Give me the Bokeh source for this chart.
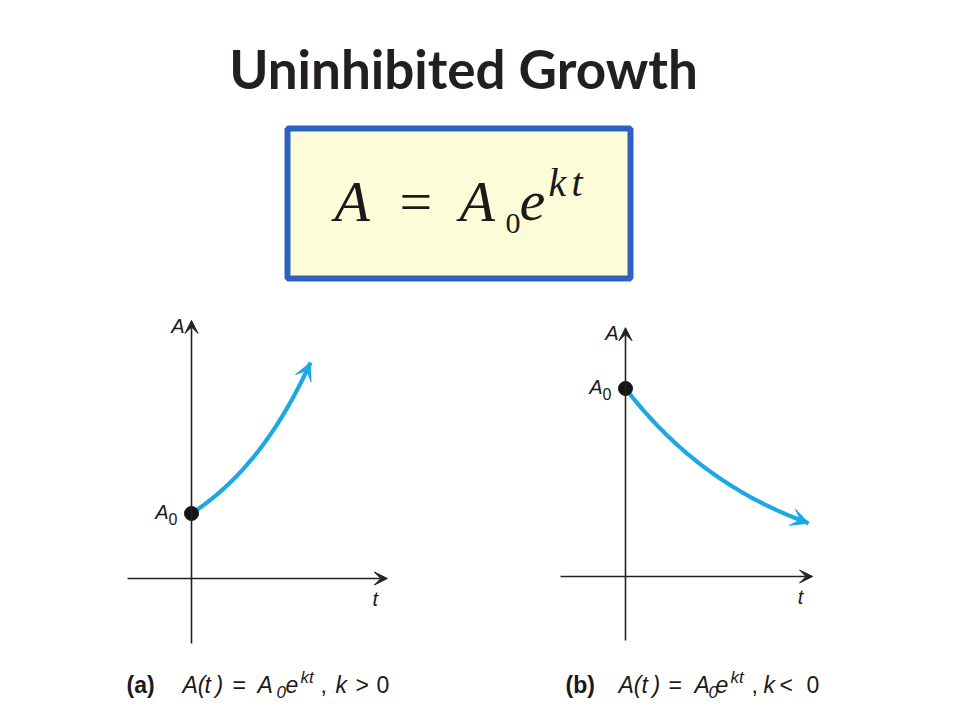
import numpy as np
from bokeh.plotting import figure
from bokeh.models import Range1d, Arrow, VeeHead
from bokeh.core.properties import value
from bokeh.embed import file_html
from bokeh.resources import INLINE

# ---------------- data ----------------
title_text = "Uninhibited Growth"

# panel (a): growth, k > 0
A0_a = 1.0
k_a = 0.5
t_a = np.linspace(0.0, 2.4, 80)
A_a = A0_a * np.exp(k_a * t_a)
t_axis_a = [-1.29, 3.95]
A_axis_a = [-1.0, 3.97]

# panel (b): decay, k < 0
A0_b = 3.0
k_b = -0.35
t_b = np.linspace(0.0, 3.6, 80)
A_b = A0_b * np.exp(k_b * t_b)
t_axis_b = [-1.28, 3.68]
A_axis_b = [-1.02, 3.97]

# ---------------- figure (coordinates = page pixels) ----------------
W, H = 944, 704
p = figure(width=W, height=H, x_range=Range1d(0, W), y_range=Range1d(H, 0),
           output_backend="svg", toolbar_location=None, min_border=0)
p.axis.visible = False
p.grid.visible = False
p.outline_line_color = None
p.background_fill_color = "white"
p.border_fill_color = "white"

SANS = value("Liberation Sans")
SERIF = value("Liberation Serif")
BASE_SHIFT = 0.37  # correction so that y is the visual baseline


def put(x, y, s, size, font=SERIF, style="normal", align="left", color="#1a1a1a"):
    p.text(x=[x], y=[y], text=[s], text_align=align, text_baseline="alphabetic",
           y_offset=-BASE_SHIFT * size,
           text_font=font, text_font_style=style, text_font_size=f"{size}px", text_color=color)


# title
p.text(x=[463], y=[88], text=[title_text], text_align="center", text_baseline="alphabetic",
       y_offset=-BASE_SHIFT * 53,
       text_font=value("Lato"), text_font_style="bold", text_font_size="53px", text_color="#231f20")

# formula box
p.quad(left=[287], right=[630], top=[128], bottom=[278], fill_color="#fdfcd8",
       line_color="#2f62c0", line_width=6)

fb = 222
put(334, fb, "A", 58, style="italic")
put(399, fb, "=", 58)
put(459, fb, "A", 58, style="italic")
put(505, fb + 12, "0", 30)
put(519, fb, "e", 58, style="italic")
put(548, fb - 25, "k", 40, style="italic")
put(571, fb - 25, "t", 40, style="italic")


# ---------------- panels ----------------
def panel(name, origin, sx, sy, t, A, A0, t_axis, A_axis):
    ox, oy = origin
    xr = Range1d((0 - ox) / sx, (W - ox) / sx)
    yr = Range1d((oy - H) / sy, (oy - 0) / sy)
    xn, yn = "x_" + name, "y_" + name
    p.extra_x_ranges[xn] = xr
    p.extra_y_ranges[yn] = yr
    kw = dict(x_range_name=xn, y_range_name=yn)
    ink = "#222222"
    # axes
    p.add_layout(Arrow(x_start=t_axis[0], y_start=0, x_end=t_axis[1], y_end=0,
                       line_color=ink, line_width=1.6,
                       end=VeeHead(size=13, fill_color=ink, line_color=ink, line_width=1), **kw))
    p.add_layout(Arrow(x_start=0, y_start=A_axis[0], x_end=0, y_end=A_axis[1],
                       line_color=ink, line_width=1.6,
                       end=VeeHead(size=13, fill_color=ink, line_color=ink, line_width=1), **kw))
    # curve
    p.line(t, A, line_color="#1ba8e3", line_width=4.2, **kw)
    p.add_layout(Arrow(x_start=t[-4], y_start=A[-4], x_end=t[-1], y_end=A[-1],
                       line_color="#1ba8e3", line_width=1,
                       end=VeeHead(size=17, fill_color="#1ba8e3", line_color="#1ba8e3", line_width=1), **kw))
    # A0 dot
    p.scatter([0], [A0], size=14, fill_color="#151515", line_color="#151515", **kw)

    # labels
    def lab(x, y, s, dx, dy, size, style="italic", align="right"):
        p.text(x=[x], y=[y], text=[s], x_offset=dx, y_offset=dy - BASE_SHIFT * size, text_align=align,
               text_baseline="alphabetic", text_font=SANS, text_font_style=style,
               text_font_size=f"{size}px", text_color="#1a1a1a", **kw)

    lab(0, A_axis[1], "A", -7, 13, 20)
    lab(0, A0, "A", -23, 6, 20)
    lab(0, A0, "0", -14, 11, 16, style="normal")
    lab(t_axis[1], 0, "t", -12, 28, 20, align="center")


panel("a", (191, 578), 119 / 2.4, 65.0, t_a, A_a, A0_a, t_axis_a, A_axis_a)
panel("b", (625, 576), 183 / 3.6, 188 / 3.0, t_b, A_b, A0_b, t_axis_b, A_axis_b)

# ---------------- captions ----------------
cb = 693
CS = 23
SS = 17


def caption(label, rel, xs):
    put(xs[0], cb, label, CS, font=SANS, style="bold")
    put(xs[1], cb, "A(", CS, font=SANS, style="italic")
    put(xs[2], cb, "t", CS, font=SANS, style="italic")
    put(xs[3], cb, ")", CS, font=SANS, style="italic")
    put(xs[4], cb, "=", CS, font=SANS)
    put(xs[5], cb, "A", CS, font=SANS, style="italic")
    put(xs[6], cb + 5, "0", SS, font=SANS, style="italic")
    put(xs[7], cb, "e", CS, font=SANS, style="italic")
    put(xs[8], cb - 10, "kt", SS, font=SANS, style="italic")
    put(xs[9], cb, ",", CS, font=SANS)
    put(xs[10], cb, "k", CS, font=SANS, style="italic")
    put(xs[11], cb, rel, CS, font=SANS)
    put(xs[12], cb, "0", CS, font=SANS)


caption("(a)", ">", [126, 182, 204, 215, 232, 257, 276, 285, 300, 320, 335, 355, 376])
caption("(b)", "<", [565, 618, 641, 652, 668, 694, 708, 715, 730, 751, 763, 779, 806])

open("out.html", "w").write(file_html(p, INLINE))
